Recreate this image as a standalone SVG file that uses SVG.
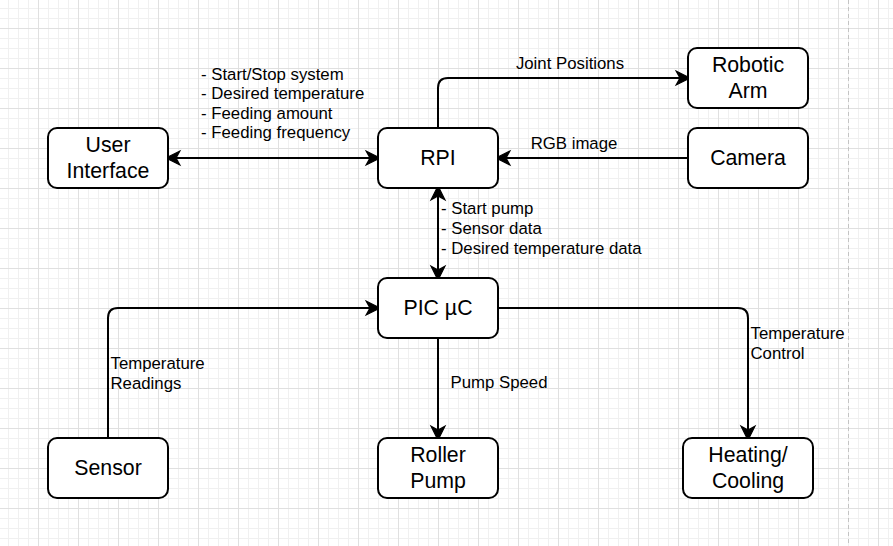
<svg xmlns="http://www.w3.org/2000/svg" width="893" height="546" viewBox="0 0 893 546">
<style>
.node{fill:#fff;stroke:#000;stroke-width:2}
.nt{font-family:"Liberation Sans",Arial,sans-serif;font-size:21.3px;fill:#000;text-anchor:middle}
.lt{font-family:"Liberation Sans",Arial,sans-serif;font-size:16.8px;fill:#000}
.edge{fill:none;stroke:#000;stroke-width:2}
</style>
<defs>
<pattern id="grid" patternUnits="userSpaceOnUse" x="38" y="28" width="40" height="40">
<rect x="0" y="0" width="40" height="40" fill="#fff"/>
<rect x="10" y="0" width="1" height="40" fill="#f0f0f0"/>
<rect x="20" y="0" width="1" height="40" fill="#f0f0f0"/>
<rect x="30" y="0" width="1" height="40" fill="#f0f0f0"/>
<rect x="0" y="10" width="40" height="1" fill="#f0f0f0"/>
<rect x="0" y="20" width="40" height="1" fill="#f0f0f0"/>
<rect x="0" y="30" width="40" height="1" fill="#f0f0f0"/>
<rect x="0" y="0" width="1" height="40" fill="#e0e0e0"/>
<rect x="0" y="0" width="40" height="1" fill="#e0e0e0"/>
</pattern>
<marker id="arr" markerUnits="userSpaceOnUse" markerWidth="20" markerHeight="20" refX="0" refY="0" viewBox="-5 -8 16 16" orient="auto-start-reverse" overflow="visible">
<path d="M8,0 L-3,-5.5 L0,0 L-3,5.5 Z" fill="#000" stroke="#000" stroke-width="1" stroke-linejoin="miter"/>
</marker>
</defs>
<rect width="893" height="546" fill="url(#grid)"/>
<line x1="848.5" y1="0" x2="848.5" y2="546" stroke="#c4c4c4" stroke-width="1" stroke-dasharray="4 3"/>

<g id="connectors">
<path class="edge" d="M176,158 H370" marker-start="url(#arr)" marker-end="url(#arr)"/>
<path class="edge" d="M438,128 V88 Q438,78 448,78 H680" marker-end="url(#arr)"/>
<path class="edge" d="M688,158 H506" marker-end="url(#arr)"/>
<path class="edge" d="M438,196 V270" marker-start="url(#arr)" marker-end="url(#arr)"/>
<path class="edge" d="M108,438 V318 Q108,308 118,308 H370" marker-end="url(#arr)"/>
<path class="edge" d="M438,338 V430" marker-end="url(#arr)"/>
<path class="edge" d="M498,308 H738 Q748,308 748,318 V430" marker-end="url(#arr)"/>
<text class="lt"><tspan x="201" y="79.5">- Start/Stop system</tspan><tspan x="201" y="99">- Desired temperature</tspan><tspan x="201" y="118.5">- Feeding amount</tspan><tspan x="201" y="138">- Feeding frequency</tspan></text>
<text class="lt" x="570" y="68.5" text-anchor="middle">Joint Positions</text>
<text class="lt" x="574" y="149" text-anchor="middle">RGB image</text>
<text class="lt"><tspan x="441" y="213.5">- Start pump</tspan><tspan x="441" y="233.5">- Sensor data</tspan><tspan x="441" y="253.5">- Desired temperature data</tspan></text>
<text class="lt"><tspan x="110.5" y="369">Temperature</tspan><tspan x="110.5" y="389">Readings</tspan></text>
<text class="lt" x="450.5" y="387.5">Pump Speed</text>
<text class="lt"><tspan x="750.5" y="339">Temperature</tspan><tspan x="750.5" y="358.5">Control</tspan></text>
</g>

<g id="user-interface">
<rect class="node" x="48" y="128" width="120" height="60" rx="9"/>
<text class="nt"><tspan x="108" y="152.3">User</tspan><tspan x="108" y="178.3">Interface</tspan></text>
</g>
<g id="rpi">
<rect class="node" x="378" y="128" width="120" height="60" rx="9"/>
<text class="nt" x="438" y="165.3">RPI</text>
</g>
<g id="robotic-arm">
<rect class="node" x="688" y="48" width="120" height="60" rx="9"/>
<text class="nt"><tspan x="748" y="72.3">Robotic</tspan><tspan x="748" y="98.3">Arm</tspan></text>
</g>
<g id="camera">
<rect class="node" x="688" y="128" width="120" height="60" rx="9"/>
<text class="nt" x="748" y="165.3">Camera</text>
</g>
<g id="pic">
<rect class="node" x="378" y="278" width="120" height="60" rx="9"/>
<text class="nt" x="438" y="315.3">PIC µC</text>
</g>
<g id="sensor">
<rect class="node" x="48" y="438" width="120" height="60" rx="9"/>
<text class="nt" x="108" y="475.3">Sensor</text>
</g>
<g id="roller-pump">
<rect class="node" x="378" y="438" width="120" height="60" rx="9"/>
<text class="nt"><tspan x="438" y="462.3">Roller</tspan><tspan x="438" y="488.3">Pump</tspan></text>
</g>
<g id="heating-cooling">
<rect class="node" x="683" y="438" width="130" height="60" rx="9"/>
<text class="nt"><tspan x="748" y="462.3">Heating/</tspan><tspan x="748" y="488.3">Cooling</tspan></text>
</g>
</svg>
